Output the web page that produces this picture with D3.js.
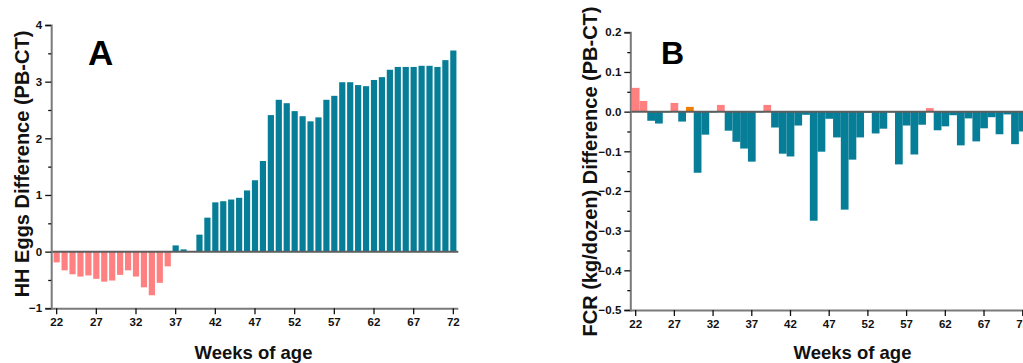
<!DOCTYPE html>
<html>
<head>
<meta charset="utf-8">
<script src="https://cdn.jsdelivr.net/npm/d3@7"></script>
<style>
  html, body { margin: 0; padding: 0; background: #fff; }
  svg { display: block; font-family: "Liberation Sans", Arial, sans-serif; }
  .tick text { font-weight: bold; font-size: 11.5px; fill: #111; }
</style>
</head>
<body>
<svg id="chart" width="1023" height="363"></svg>
<script>
// Weeks of age (x categories shared by both panels)
const weeks = [22,23,24,25,26,27,28,29,30,31,32,33,34,35,36,37,38,39,40,41,42,43,44,45,46,
               47,48,49,50,51,52,53,54,55,56,57,58,59,60,61,62,63,64,65,66,67,68,69,70,71,72];

// Panel A: hen-housed eggs difference (PB - CT)
const hhEggsDiff = [-0.19,-0.33,-0.40,-0.44,-0.42,-0.48,-0.53,-0.51,-0.41,-0.33,-0.44,-0.63,-0.77,-0.55,-0.26,
                    0.11,0.04,0.00,0.30,0.60,0.87,0.89,0.92,0.95,1.08,1.26,1.60,2.41,2.68,2.62,2.48,2.39,
                    2.30,2.37,2.68,2.75,2.99,2.99,2.94,2.92,3.03,3.08,3.21,3.26,3.26,3.26,3.28,3.28,3.26,
                    3.38,3.55];

// Panel B: FCR (kg/dozen) difference (PB - CT)
const fcrDiff = [0.060,0.027,-0.023,-0.030,-0.002,0.022,-0.025,0.012,-0.154,-0.058,-0.002,0.017,-0.048,
                 -0.076,-0.093,-0.126,-0.002,0.017,-0.040,-0.106,-0.113,-0.035,-0.008,-0.275,-0.101,-0.018,
                 -0.065,-0.247,-0.121,-0.065,-0.003,-0.055,-0.043,-0.002,-0.133,-0.035,-0.108,-0.033,0.009,
                 -0.047,-0.037,-0.009,-0.085,-0.017,-0.075,-0.042,-0.014,-0.057,-0.007,-0.082,-0.050];

// Tick labels
const xTickWeeks = [22,27,32,37,42,47,52,57,62,67,72];
const yTicksA = [-1,0,1,2,3,4];
const yMinorA = [-0.5,0.5,1.5,2.5,3.5];
const yTicksB = [-0.5,-0.4,-0.3,-0.2,-0.1,0.0,0.1,0.2];
const yMinorB = [-0.45,-0.35,-0.25,-0.15,-0.05,0.05,0.15];

// Colours
const TEAL = "#077e97", PINK = "#ff8080", ORANGE = "#f07d00";
const AXIS = "#7a7a7a";
const barColour = {29: ORANGE};

const svg = d3.select("#chart");

function styleAxis(g) {
  g.select(".domain").attr("stroke", AXIS).attr("stroke-width", 2);
  g.selectAll(".tick line").attr("stroke", "#111").attr("stroke-width", 1.3);
}

function panel(cfg) {
  const x = d3.scaleBand().domain(weeks).range(cfg.xRange).paddingInner(cfg.pad).paddingOuter(cfg.pad / 2);
  const y = d3.scaleLinear().domain(cfg.yDomain).range(cfg.yRange);
  const g = svg.append("g");
  const axisX = cfg.xRange[0] - 1.5;

  // bars
  g.append("g").selectAll("rect")
    .data(weeks.map((w, i) => ({ w, v: cfg.values[i] })))
    .join("rect")
    .attr("x", d => x(d.w))
    .attr("width", x.bandwidth())
    .attr("y", d => y(Math.max(0, d.v)))
    .attr("height", d => Math.abs(y(d.v) - y(0)))
    .attr("fill", d => barColour[d.w] && cfg.useHighlight ? barColour[d.w] : (d.v >= 0 ? (d.v > 0 && cfg.posPink(d.w) ? PINK : TEAL) : (cfg.negPink ? PINK : TEAL)));

  // zero reference line
  g.append("line")
    .attr("x1", axisX).attr("x2", cfg.xRange[1] + 1)
    .attr("y1", y(0)).attr("y2", y(0))
    .attr("stroke", "#5e5e5e").attr("stroke-width", 2);

  // y axis (major + minor ticks)
  g.append("g").attr("transform", `translate(${axisX},0)`)
    .call(d3.axisLeft(y).tickValues(cfg.yTicks).tickSize(6).tickPadding(3).tickFormat(cfg.yFormat))
    .call(styleAxis);
  g.append("g").attr("transform", `translate(${axisX},0)`)
    .call(d3.axisLeft(y).tickValues(cfg.yMinor).tickSize(3).tickFormat(""))
    .call(g2 => { g2.select(".domain").remove(); g2.selectAll(".tick line").attr("stroke", "#111").attr("stroke-width", 1.3); });

  // x axis
  const xa = g.append("g").attr("transform", `translate(0,${cfg.yRange[0]})`)
    .call(d3.axisBottom(x).tickValues(xTickWeeks).tickSize(6).tickPadding(4).tickSizeOuter(0))
    .call(styleAxis);
  xa.select(".domain").attr("d", `M${axisX},0.5H${cfg.xRange[1] + 1}`);

  // titles
  g.append("text")
    .attr("transform", `translate(${cfg.yTitleX},${cfg.yTitleY}) rotate(-90)`)
    .attr("text-anchor", "middle").attr("font-weight", "bold").attr("font-size", 20).attr("fill", "#111")
    .text(cfg.yTitle);
  g.append("text")
    .attr("x", cfg.xTitleX).attr("y", 359)
    .attr("text-anchor", "middle").attr("font-weight", "bold").attr("font-size", 18.5).attr("fill", "#111")
    .text("Weeks of age");
  g.append("text")
    .attr("x", cfg.letterX).attr("y", cfg.letterY)
    .attr("font-weight", "bold").attr("font-size", cfg.letterSize).attr("fill", "#000")
    .text(cfg.letter);
}

// Panel A
panel({
  values: hhEggsDiff,
  xRange: [52.7, 457.3], pad: 0.22,
  yDomain: [-1, 4], yRange: [308.3, 25],
  yTicks: yTicksA, yMinor: yMinorA, yFormat: d3.format("d"),
  posPink: () => false, negPink: true, useHighlight: false,
  yTitle: "HH Eggs Difference (PB-CT)", yTitleX: 28.5, yTitleY: 164,
  xTitleX: 253.5,
  letter: "A", letterX: 88, letterY: 65, letterSize: 35
});

// Panel B
panel({
  values: fcrDiff,
  xRange: [631.8, 1026.6], pad: 0,
  yDomain: [-0.5, 0.2], yRange: [310, 32.3],
  yTicks: yTicksB, yMinor: yMinorB, yFormat: d3.format(".1f"),
  posPink: () => true, negPink: false, useHighlight: true,
  yTitle: "FCR (kg/dozen) Difference (PB-CT)", yTitleX: 597, yTitleY: 171.5,
  xTitleX: 852.5,
  letter: "B", letterX: 661, letterY: 63.5, letterSize: 32
});
</script>
</body>
</html>
